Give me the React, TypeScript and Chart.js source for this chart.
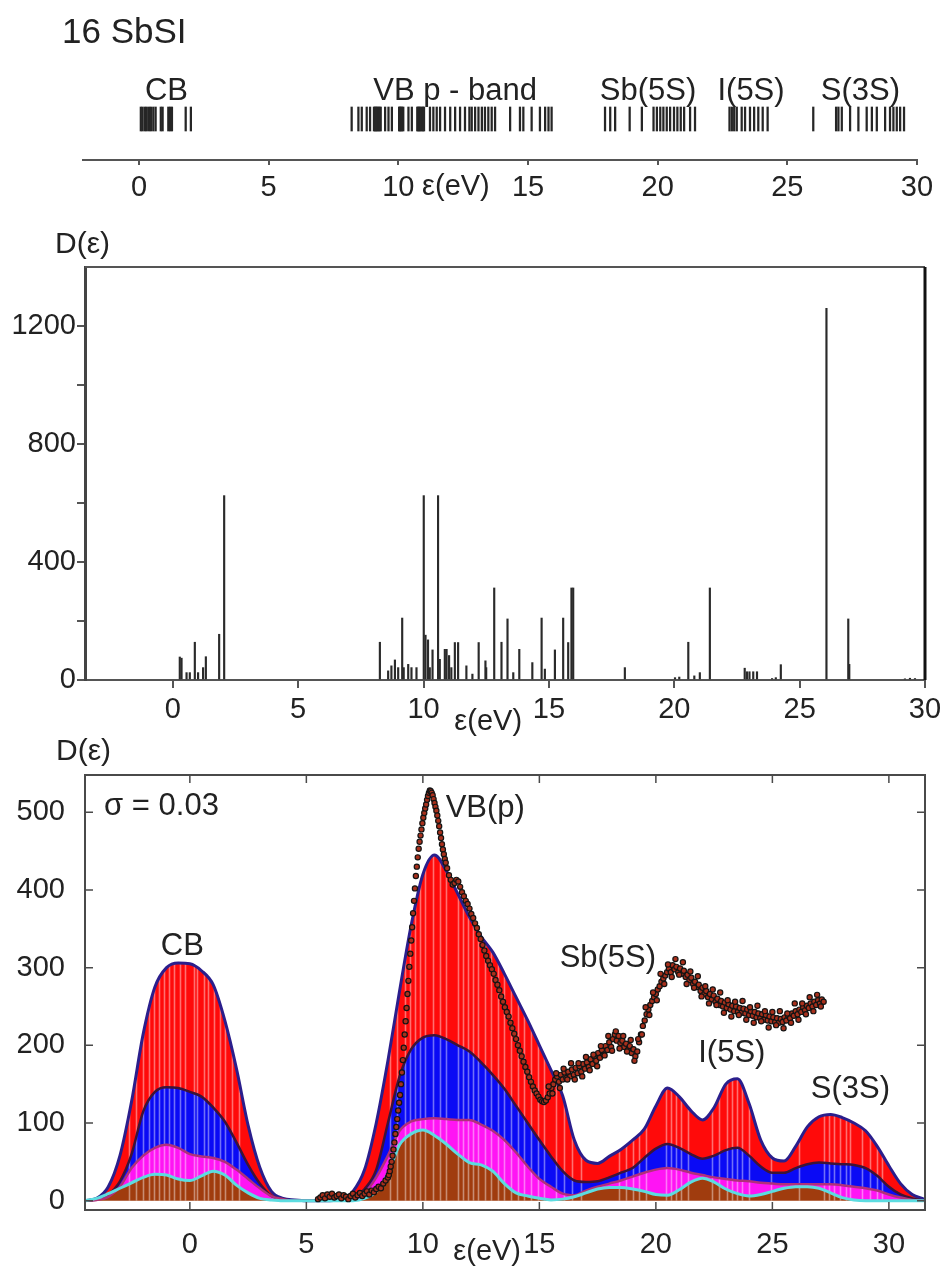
import React, { useEffect, useRef } from 'react';
import { Chart, registerables } from 'chart.js';

Chart.register(...registerables);

const FONT = "'Liberation Sans', Arial, Helvetica, sans-serif";
const INK = '#222222';

// ---------- Panel 1: level bar-code ----------
const barcodeE = [
  0.07, 0.14, 0.23, 0.30, 0.39, 0.46, 0.55, 0.64, 0.84, 0.91, 1.13, 1.20, 1.27, 1.80, 2.00,
  8.20, 8.46, 8.59, 8.78, 8.91, 9.06, 9.10, 9.14, 9.18, 9.23, 9.27, 9.32, 9.49, 9.62, 9.75,
  10.03, 10.06, 10.10, 10.14, 10.19, 10.39, 10.52, 10.73, 10.77, 10.81, 10.85, 10.90, 10.95, 10.99,
  11.22, 11.35, 11.48, 11.61, 11.80, 12.00, 12.19, 12.38, 12.57, 12.74, 12.83, 12.96, 13.09, 13.22,
  13.34, 13.47, 13.60, 13.73, 14.31, 14.69, 14.82, 15.14, 15.46, 15.66, 15.79, 15.91,
  17.97, 18.17, 18.36, 18.92, 19.39, 19.84, 19.97, 20.10, 20.22, 20.35, 20.48, 20.63, 20.76, 20.89, 21.02, 21.25, 21.44,
  22.77, 22.86, 22.95, 23.05, 23.24, 23.37, 23.56, 23.72, 23.88, 24.05, 24.24,
  26.00, 26.88, 26.97, 27.10, 27.42, 27.74, 28.06, 28.26, 28.45, 28.77, 28.96, 29.09, 29.22, 29.35, 29.50,
];
const topTicks = [0, 5, 10, 15, 20, 25, 30];
const bandLabels = ['CB', 'VB p - band', 'Sb(5S)', 'I(5S)', 'S(3S)'];
const bandLabelE = [1.06, 12.19, 19.63, 23.6, 27.82];

// ---------- Panel 2: stick spectrum ----------
const stickE = [
  0.28, 0.35, 0.55, 0.68, 0.88, 1.01, 1.21, 1.32, 1.85, 2.05,
  8.26, 8.59, 8.72, 8.86, 8.99, 9.15, 9.21, 9.39, 9.52, 9.72,
  10.01, 10.08, 10.18, 10.25, 10.36, 10.58, 10.65, 10.85, 10.92, 11.02,
  11.11, 11.25, 11.38, 11.71, 11.95, 12.2, 12.47, 12.5, 12.82, 13.11,
  13.35, 13.58, 13.82, 14.34, 14.71, 14.84, 15.24, 15.57, 15.77, 15.9, 15.97,
  18.03, 20.03, 20.2, 20.56, 20.8, 21.02, 21.42,
  22.81, 22.9, 23.0, 23.15, 23.3, 23.9, 24.05, 24.25,
  26.07, 26.94, 26.98, 29.2, 29.4, 29.6,
];
const stickD = [
  78, 74, 25, 25, 128, 25, 42, 79, 155, 625,
  128, 31, 48, 68, 42, 210, 42, 53, 42, 42,
  625, 152, 136, 42, 102, 625, 70, 104, 104, 83,
  42, 127, 127, 48, 20, 127, 65, 42, 312, 128,
  207, 25, 104, 59, 210, 37, 102, 210, 127, 312, 312,
  42, 8, 10, 128, 14, 25, 312,
  40, 28, 28, 28, 28, 5, 8, 52,
  1260, 207, 53, 4, 6, 5,
];
const midXTicks = [0, 5, 10, 15, 20, 25, 30];
const midYTicks = [0, 200, 400, 600, 800, 1000, 1200];

// ---------- Panel 3: broadened DOS ----------
const gridE = [
  -4.5, -4.0, -3.5, -3.0, -2.5, -2.0, -1.5, -1.0, -0.5, 0.0,
  0.5, 1.0, 1.5, 2.0, 2.5, 3.0, 3.5, 4.0, 4.5, 5.0,
  5.5, 6.0, 6.5, 7.0, 7.5, 8.0, 8.5, 9.0, 9.5, 10.0,
  10.5, 11.0, 11.5, 12.0, 12.5, 13.0, 13.5, 14.0, 14.5, 15.0,
  15.5, 16.0, 16.5, 17.0, 17.5, 18.0, 18.5, 19.0, 19.5, 20.0,
  20.5, 21.0, 21.5, 22.0, 22.5, 23.0, 23.5, 24.0, 24.5, 25.0,
  25.5, 26.0, 26.5, 27.0, 27.5, 28.0, 28.5, 29.0, 29.5, 30.0,
  30.5, 31.0, 31.5,
];
const totalTop = [
  0, 3, 18, 58, 128, 215, 275, 300, 306, 305,
  296, 278, 232, 170, 97, 43, 12, 3, 1, 0,
  0, 0, 2, 12, 40, 100, 180, 270, 355, 420,
  445, 425, 395, 365, 340, 320, 292, 262, 232, 200,
  168, 135, 78, 52, 48, 57, 66, 78, 92, 122,
  145, 134, 116, 104, 120, 150, 157, 125, 78, 55,
  51, 70, 95, 108, 111, 107, 100, 90, 70, 45,
  22, 8, 2,
];
const blueTop = [
  0, 2, 8, 25, 60, 115, 140, 146, 145, 140,
  134, 120, 102, 75, 46, 22, 6, 2, 0, 0,
  0, 0, 0, 3, 15, 40, 100, 160, 195, 210,
  213, 208, 200, 192, 178, 162, 144, 122, 100, 78,
  57, 38, 26, 24, 25, 30, 36, 42, 55, 67,
  73, 68, 60, 54, 58, 65, 68, 58, 44, 36,
  36, 42, 47, 49, 48, 47, 46, 42, 32, 18,
  8, 3, 0,
];
const magentaTop = [
  0, 1, 5, 18, 42, 58, 68, 72, 68, 60,
  57, 55, 50, 40, 28, 16, 6, 2, 0, 0,
  0, 0, 0, 2, 10, 30, 58, 90, 102, 105,
  106, 105, 104, 104, 98, 90, 78, 62, 44, 28,
  18, 9, 7, 13, 18, 22, 26, 31, 36, 40,
  42, 40, 36, 33, 30, 28, 26, 25, 23, 22,
  21, 21, 21, 21, 21, 20, 18, 16, 13, 8,
  4, 1, 0,
];
const brownTop = [
  0, 3, 9, 16, 23, 30, 34, 33, 28, 26,
  32, 38, 33, 20, 10, 3, 1, 0, 0, 0,
  0, 0, 0, 0, 3, 12, 35, 72, 86, 91,
  84, 73, 60, 49, 46, 38, 22, 10, 6, 3,
  1, 2, 5, 10, 15, 17, 17, 15, 12, 8,
  7, 14, 24, 29, 24, 15, 9, 6, 8, 12,
  16, 18, 18, 16, 10, 4, 1, 0, 0, 0,
  0, 0, 0,
];
const stripeE = [
  -2.6, -2.3, -2.0, -1.75, -1.55, -1.34, -1.13, -0.91, -0.67, -0.41, -0.2, 0.16, 0.3, 0.59, 0.8, 1.02, 1.3, 1.51, 1.8, 2.1,
  8.6, 8.9, 9.22, 9.43, 9.65, 9.86, 10.08, 10.44, 10.72, 11.0, 11.51, 11.72, 11.93, 12.15, 12.36, 12.65, 12.93,
  13.22, 13.5, 13.79, 14.07, 14.36, 14.65, 14.93, 15.22, 15.72, 16.07, 16.4, 16.8,
  18.43, 18.72, 19.0, 19.29, 19.57, 20.43, 20.64, 20.86, 21.07, 21.36,
  22.43, 22.71, 23.07, 23.28, 23.5, 23.71, 24.0,
  24.93, 26.14, 27.21, 27.42, 27.64, 27.92, 28.14, 28.35, 28.85, 29.21, 29.49, 29.71,
];
// experimental points [energy, D]
const expLow = [
  [5.5, 2], [5.6, 4], [5.7, 7], [5.8, 3], [5.9, 8], [6.0, 5], [6.1, 9], [6.2, 4], [6.3, 6], [6.4, 8],
  [6.5, 3], [6.6, 7], [6.7, 5], [6.8, 2], [6.9, 6], [7.0, 9], [7.1, 4], [7.2, 7], [7.3, 10], [7.4, 6],
  [7.5, 9], [7.6, 12], [7.7, 8], [7.8, 13], [7.9, 11], [8.0, 15], [8.1, 18], [8.2, 16], [8.3, 22], [8.4, 26],
];
const expPeak = [
  [8.50, 30], [8.54, 33], [8.58, 38], [8.62, 44], [8.66, 50], [8.70, 58], [8.74, 66], [8.78, 75], [8.82, 86], [8.86, 95],
  [8.90, 105], [8.94, 116], [8.98, 126], [9.02, 136], [9.06, 150], [9.10, 165], [9.14, 181], [9.18, 197], [9.22, 214], [9.26, 231],
  [9.30, 248], [9.34, 266], [9.38, 283], [9.42, 301], [9.46, 318], [9.50, 335], [9.54, 352], [9.58, 370], [9.62, 386], [9.66, 402],
  [9.70, 418], [9.74, 430], [9.78, 442], [9.82, 453], [9.86, 462], [9.90, 470], [9.94, 478], [9.98, 486], [10.02, 493], [10.06, 499],
  [10.10, 505], [10.14, 510], [10.18, 516], [10.22, 521], [10.26, 525], [10.30, 528], [10.34, 527], [10.38, 525], [10.42, 522], [10.46, 517],
  [10.50, 512], [10.54, 507], [10.58, 502], [10.62, 496], [10.66, 489], [10.70, 482], [10.74, 474], [10.78, 467], [10.82, 459], [10.86, 452],
  [10.90, 446], [10.94, 440], [10.98, 435],
];
const expTail = [
  [11.04, 428], [11.12, 419], [11.20, 413], [11.28, 407], [11.36, 409], [11.44, 413], [11.52, 411], [11.60, 404], [11.68, 397], [11.76, 392],
  [11.84, 386], [11.92, 382], [12.00, 376], [12.08, 369], [12.16, 364], [12.24, 357], [12.32, 351], [12.40, 343], [12.48, 337], [12.56, 329],
  [12.64, 322], [12.72, 315], [12.80, 309], [12.88, 303], [12.96, 298], [13.04, 292], [13.12, 284], [13.20, 278], [13.28, 271], [13.36, 263],
  [13.44, 256], [13.52, 249], [13.60, 243], [13.68, 237], [13.76, 229], [13.84, 222], [13.92, 215], [14.00, 208], [14.08, 200], [14.16, 193],
  [14.24, 186], [14.32, 179], [14.40, 172], [14.48, 166], [14.56, 159], [14.64, 153], [14.72, 147], [14.80, 142], [14.88, 138], [14.96, 134],
  [15.04, 130], [15.12, 128], [15.20, 127], [15.28, 129],
];
const expHigh = [
  [15.36, 133], [15.44, 138], [15.52, 145], [15.60, 150], [15.68, 156], [15.76, 160], [15.84, 153], [15.92, 162], [16.00, 156], [16.08, 165],
  [16.16, 158], [16.24, 166], [16.32, 160], [16.40, 169], [16.48, 162], [16.56, 171], [16.64, 164], [16.72, 173], [16.80, 166], [16.88, 176],
  [16.96, 170], [17.04, 178], [17.12, 172], [17.20, 182], [17.28, 176], [17.36, 186], [17.44, 180], [17.52, 190], [17.60, 184], [17.68, 194],
  [17.76, 188], [17.84, 199], [17.92, 194], [18.00, 204], [18.08, 198], [18.16, 208], [18.24, 214], [18.32, 206], [18.40, 212], [18.48, 203],
  [18.56, 206], [18.64, 198], [18.72, 202], [18.80, 194], [18.88, 199], [18.96, 190], [19.04, 195], [19.12, 186], [19.20, 192], [19.28, 204],
  [19.36, 214], [19.44, 225], [19.52, 232], [19.60, 240], [19.68, 246], [19.76, 252], [19.84, 257], [19.92, 262], [20.00, 266], [20.08, 272],
  [20.16, 276], [20.24, 282], [20.32, 286], [20.40, 290], [20.48, 294], [20.56, 299], [20.64, 294], [20.72, 303], [20.80, 298], [20.88, 301],
  [20.96, 294], [21.04, 299], [21.12, 292], [21.20, 296], [21.28, 288], [21.36, 291], [21.44, 284], [21.52, 287], [21.60, 279], [21.68, 282],
  [21.76, 275], [21.84, 278], [21.92, 270], [22.00, 274], [22.08, 266], [22.16, 270], [22.24, 262], [22.32, 266], [22.40, 259], [22.48, 264],
  [22.56, 256], [22.64, 260], [22.72, 252], [22.80, 257], [22.88, 250], [22.96, 255], [23.04, 248], [23.12, 253], [23.20, 246], [23.28, 251],
  [23.36, 244], [23.44, 250], [23.52, 243], [23.60, 248], [23.68, 242], [23.76, 247], [23.84, 241], [23.92, 246], [24.00, 239], [24.08, 244],
  [24.16, 238], [24.24, 243], [24.32, 236], [24.40, 241], [24.48, 235], [24.56, 240], [24.64, 233], [24.72, 239], [24.80, 232], [24.88, 237],
  [24.96, 231], [25.04, 236], [25.12, 230], [25.20, 235], [25.28, 229], [25.36, 234], [25.44, 230], [25.52, 236], [25.60, 232], [25.68, 238],
  [25.76, 235], [25.84, 241], [25.92, 238], [26.00, 244], [26.08, 240], [26.16, 246], [26.24, 243], [26.32, 249], [26.40, 245], [26.48, 251],
  [26.56, 248], [26.64, 254], [26.72, 250], [26.80, 256], [26.88, 252], [26.96, 258], [27.04, 254], [27.12, 259], [27.20, 256],
];
const expSpread = [
  [15.40, 147], [15.56, 138], [15.72, 164], [15.88, 145], [16.04, 170], [16.20, 156], [16.36, 177], [16.52, 156], [16.68, 177], [16.84, 160],
  [17.00, 185], [17.16, 168], [17.32, 188], [17.48, 173], [17.64, 199], [17.80, 187], [17.96, 212], [18.12, 193], [18.28, 218], [18.44, 196],
  [18.60, 212], [18.76, 192], [18.92, 207], [19.08, 180], [19.24, 208], [19.40, 214], [19.56, 249], [19.72, 239], [19.88, 268], [20.04, 258],
  [20.20, 292], [20.36, 279], [20.52, 304], [20.68, 288], [20.84, 311], [21.00, 291], [21.16, 307], [21.32, 279], [21.48, 295], [21.64, 274],
  [21.80, 289], [21.96, 263], [22.12, 276], [22.28, 254], [22.44, 272], [22.60, 252], [22.76, 268], [22.92, 242], [23.08, 258], [23.24, 237],
  [23.40, 256], [23.56, 239], [23.72, 257], [23.88, 233], [24.04, 249], [24.20, 229], [24.36, 251], [24.52, 231], [24.68, 244], [24.84, 223],
  [25.00, 243], [25.16, 226], [25.32, 244], [25.48, 222], [25.64, 241], [25.80, 229], [25.96, 254], [26.12, 233], [26.28, 254], [26.44, 240],
  [26.60, 262], [26.76, 244], [26.92, 265], [27.08, 250],
];
const botXTicks = [0, 5, 10, 15, 20, 25, 30];
const botYTicks = [0, 100, 200, 300, 400, 500];
const peakLabels = ['CB', 'VB(p)', 'Sb(5S)', 'I(5S)', 'S(3S)'];
const peakLabelE = [-0.32, 12.68, 17.94, 23.26, 28.35];
const peakLabelD = [316, 494, 301, 179, 132];

// ---------- helpers ----------
function txt(ctx: CanvasRenderingContext2D, s: string, x: number, y: number, size: number, align: CanvasTextAlign = 'center') {
  ctx.save();
  ctx.font = `${size}px ${FONT}`;
  ctx.fillStyle = INK;
  ctx.textAlign = align;
  ctx.textBaseline = 'alphabetic';
  ctx.fillText(s, x, y);
  ctx.restore();
}

const tickFont = { family: FONT, size: 29 };

function fixedTicks(list: number[]) {
  return (s: any) => {
    s.ticks = list.map((v) => ({ value: v }));
  };
}

export default function App() {
  const r1 = useRef<HTMLCanvasElement>(null);
  const r2 = useRef<HTMLCanvasElement>(null);
  const r3 = useRef<HTMLCanvasElement>(null);

  useEffect(() => {
    // ---------- Panel 1 ----------
    const p1 = {
      id: 'p1text',
      afterDraw(chart: any) {
        const { ctx, chartArea: a, scales } = chart;
        const xs = scales.x;
        const ys = scales.y;
        txt(ctx, '16 SbSI', 62, 43, 35, 'left');
        bandLabels.forEach((l, i) => txt(ctx, l, xs.getPixelForValue(bandLabelE[i]), ys.getPixelForValue(0.6), 31));
        txt(ctx, 'ε(eV)', xs.getPixelForValue(12.22), a.bottom + 35, 29);
      },
    };
    const c1 = new Chart(r1.current as HTMLCanvasElement, {
      type: 'bar',
      data: {
        datasets: [
          {
            data: barcodeE.map((e) => ({ x: e, y: [0.29, 0.53] })) as any,
            backgroundColor: '#262626',
            barThickness: 1.6,
            borderWidth: 0,
          },
        ],
      },
      options: {
        responsive: false,
        animation: false,
        layout: { padding: { left: 83, right: 43, top: 60, bottom: 0 } },
        plugins: { legend: { display: false }, tooltip: { enabled: false } },
        scales: {
          x: {
            type: 'linear',
            min: -2.16,
            max: 30,
            offset: false,
            afterBuildTicks: fixedTicks(topTicks),
            afterFit: (s: any) => {
              s.height = 60;
            },
            grid: { display: true, drawOnChartArea: false, drawTicks: true, tickLength: 5, color: '#555', lineWidth: 2, offset: false },
            border: { display: true, color: '#555', width: 2 },
            ticks: { font: tickFont, color: INK, padding: 6, maxRotation: 0, autoSkip: false },
          },
          y: { display: false, min: 0, max: 1 },
        },
      } as any,
      plugins: [p1],
    });

    // ---------- Panel 2 ----------
    const p2 = {
      id: 'p2frame',
      afterDraw(chart: any) {
        const { ctx, chartArea: a, scales } = chart;
        ctx.save();
        ctx.strokeStyle = '#555';
        ctx.lineWidth = 2;
        ctx.beginPath();
        ctx.moveTo(a.left, a.top);
        ctx.lineTo(a.right, a.top);
        ctx.stroke();
        ctx.strokeStyle = '#111';
        ctx.lineWidth = 3;
        ctx.beginPath();
        ctx.moveTo(a.right, a.top);
        ctx.lineTo(a.right, a.bottom);
        ctx.stroke();
        ctx.restore();
        txt(ctx, 'D(ε)', 55, a.top - 14, 30, 'left');
        txt(ctx, 'ε(eV)', scales.x.getPixelForValue(12.58), a.bottom + 50, 29);
      },
    };
    const c2 = new Chart(r2.current as HTMLCanvasElement, {
      type: 'bar',
      data: {
        datasets: [
          {
            data: stickE.map((e, i) => ({ x: e, y: stickD[i] })) as any,
            backgroundColor: '#2a2a2a',
            barThickness: 1.5,
            borderWidth: 0,
          },
        ],
      },
      options: {
        responsive: false,
        animation: false,
        layout: { padding: { left: 0, right: 35, top: 47, bottom: 0 } },
        plugins: { legend: { display: false }, tooltip: { enabled: false } },
        scales: {
          x: {
            type: 'linear',
            min: -3.5,
            max: 30,
            offset: false,
            afterBuildTicks: fixedTicks(midXTicks),
            afterFit: (s: any) => {
              s.height = 70;
            },
            grid: { display: true, drawOnChartArea: false, drawTicks: true, tickLength: 8, color: '#555', lineWidth: 2, offset: false },
            border: { display: true, color: '#555', width: 2 },
            ticks: { font: tickFont, color: INK, padding: 5, maxRotation: 0, autoSkip: false },
          },
          y: {
            type: 'linear',
            min: 0,
            max: 1400,
            afterBuildTicks: fixedTicks(midYTicks),
            afterFit: (s: any) => {
              s.width = 85;
            },
            grid: { display: true, drawOnChartArea: false, drawTicks: true, tickLength: 8, color: '#555', lineWidth: 2 },
            border: { display: true, color: '#444', width: 3 },
            ticks: {
              font: tickFont,
              color: INK,
              padding: 1,
              callback: (v: any) => (Number(v) % 400 === 0 ? String(v) : ''),
            },
          },
        },
      } as any,
      plugins: [p2],
    });

    // ---------- Panel 3 ----------
    const p3 = {
      id: 'p3deco',
      beforeDatasetsDraw(chart: any) {
        const { ctx, chartArea: a, scales } = chart;
        const meta = chart.getDatasetMeta(3);
        const line = meta.dataset;
        if (!line || !line.points || !line.points.length) return;
        const y0 = scales.y.getPixelForValue(0);
        const pts = line.points;
        ctx.save();
        ctx.beginPath();
        ctx.rect(a.left, a.top, a.right - a.left, a.bottom - a.top);
        ctx.clip();
        ctx.beginPath();
        line.path(ctx);
        ctx.lineTo(pts[pts.length - 1].x, y0);
        ctx.lineTo(pts[0].x, y0);
        ctx.closePath();
        ctx.clip();
        ctx.strokeStyle = 'rgba(255,255,255,0.42)';
        ctx.lineWidth = 1.6;
        ctx.beginPath();
        stripeE.forEach((e) => {
          const px = Math.round(scales.x.getPixelForValue(e)) + 0.5;
          ctx.moveTo(px, y0);
          ctx.lineTo(px, a.top);
        });
        ctx.stroke();
        ctx.restore();
      },
      afterDraw(chart: any) {
        const { ctx, chartArea: a, scales } = chart;
        const xs = scales.x;
        const ys = scales.y;
        ctx.save();
        ctx.strokeStyle = '#4a4a4a';
        ctx.lineWidth = 2;
        ctx.strokeRect(a.left, a.top, a.right - a.left, a.bottom - a.top);
        ctx.lineWidth = 1.5;
        ctx.beginPath();
        botXTicks.forEach((v) => {
          const px = xs.getPixelForValue(v);
          ctx.moveTo(px, a.bottom);
          ctx.lineTo(px, a.bottom - 8);
          ctx.moveTo(px, a.top);
          ctx.lineTo(px, a.top + 8);
        });
        botYTicks.forEach((v) => {
          const py = ys.getPixelForValue(v);
          ctx.moveTo(a.left, py);
          ctx.lineTo(a.left + 8, py);
          ctx.moveTo(a.right, py);
          ctx.lineTo(a.right - 8, py);
        });
        ctx.stroke();
        ctx.restore();
        txt(ctx, 'D(ε)', 111, a.top - 15, 30, 'right');
        txt(ctx, 'σ = 0.03', xs.getPixelForValue(-3.68), ys.getPixelForValue(496), 31, 'left');
        peakLabels.forEach((l, i) => txt(ctx, l, xs.getPixelForValue(peakLabelE[i]), ys.getPixelForValue(peakLabelD[i]), 31));
        txt(ctx, 'ε(eV)', xs.getPixelForValue(12.76), a.bottom + 50, 29);
      },
    };
    const area = (vals: number[], fill: any, fillColor: string, line: string, w: number) => ({
      data: gridE.map((e, i) => ({ x: e, y: vals[i] })),
      backgroundColor: fillColor,
      borderColor: line,
      borderWidth: w,
      fill,
      pointRadius: 0,
      cubicInterpolationMode: 'monotone',
      order: 1,
    });
    const expAll = [...expLow, ...expPeak, ...expTail, ...expHigh, ...expSpread];
    const c3 = new Chart(r3.current as HTMLCanvasElement, {
      type: 'line',
      data: {
        datasets: [
          area(brownTop, 'origin', '#a03c0e', '#5cdce0', 3),
          area(magentaTop, '-1', '#ff14f4', '#b0307a', 2.5),
          area(blueTop, '-1', '#0a0af5', '#3c1438', 2.5),
          area(totalTop, '-1', '#ff0a0a', '#2a1e8c', 3),
          {
            data: expAll.map((p) => ({ x: p[0], y: p[1] })),
            showLine: false,
            fill: false,
            pointRadius: 2.6,
            pointBackgroundColor: '#a8301c',
            pointBorderColor: '#141414',
            pointBorderWidth: 1.2,
            order: -1,
          },
        ] as any,
      },
      options: {
        responsive: false,
        animation: false,
        layout: { padding: { left: 0, right: 35, top: 45, bottom: 0 } },
        plugins: { legend: { display: false }, tooltip: { enabled: false }, filler: { drawTime: 'beforeDatasetsDraw' } },
        scales: {
          x: {
            type: 'linear',
            min: -4.5,
            max: 31.55,
            afterBuildTicks: fixedTicks(botXTicks),
            afterFit: (s: any) => {
              s.height = 59;
            },
            grid: { display: false },
            border: { display: false },
            ticks: { font: tickFont, color: INK, padding: 10, maxRotation: 0, autoSkip: false },
          },
          y: {
            type: 'linear',
            min: -12,
            max: 548,
            afterBuildTicks: fixedTicks(botYTicks),
            afterFit: (s: any) => {
              s.width = 85;
            },
            grid: { display: false },
            border: { display: false },
            ticks: { font: tickFont, color: INK, padding: 12 },
          },
        },
      } as any,
      plugins: [p3],
    });

    return () => {
      c1.destroy();
      c2.destroy();
      c3.destroy();
    };
  }, []);

  const cs = (top: number, h: number): React.CSSProperties => ({ position: 'absolute', left: 0, top, width: 960, height: h });
  return (
    <div style={{ position: 'absolute', left: 0, top: 0, width: 941, height: 1269, overflow: 'hidden', background: '#ffffff' }}>
      <canvas ref={r1} width={960} height={220} style={cs(0, 220)} />
      <canvas ref={r2} width={960} height={530} style={cs(220, 530)} />
      <canvas ref={r3} width={960} height={539} style={cs(730, 539)} />
    </div>
  );
}
